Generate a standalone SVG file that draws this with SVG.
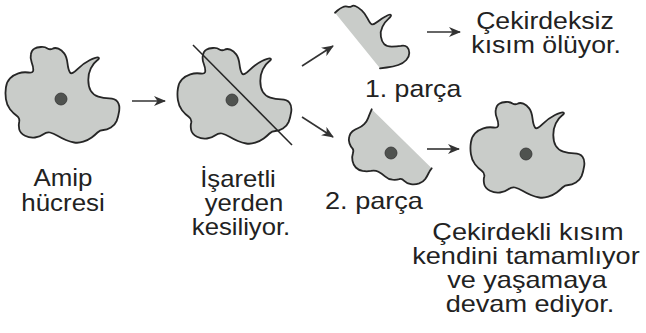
<svg xmlns="http://www.w3.org/2000/svg" width="646" height="333" viewBox="0 0 646 333">
  <style>
    .cell { fill: #c9ccc9; stroke: #262626; stroke-width: 1.8; stroke-linejoin: round; }
    .piece { fill: #c9ccc9; stroke: none; }
    .edge { fill: none; stroke: #262626; stroke-width: 1.8; stroke-linejoin: round; stroke-linecap: round; }
    .nucleus { fill: #4f524f; stroke: #333; stroke-width: 0.8; }
    .cut { stroke: #262626; stroke-width: 1.5; }
    .arrow { stroke: #333; stroke-width: 1.6; fill: none; marker-end: url(#head); }
    text { font-family: "Liberation Sans", Arial, sans-serif; font-size: 24px; fill: #222; }
    .mid { text-anchor: middle; }
  </style>
  <defs>
    <marker id="head" viewBox="0 0 12 10" refX="11" refY="5" markerWidth="12" markerHeight="10" markerUnits="userSpaceOnUse" orient="auto">
      <path d="M0,0 L12,5 L0,10 L3.5,5 Z" fill="#333"/>
    </marker>
    <!-- whole amoeba outline, nucleus at (61,99) -->
    <path id="amoeba" d="M30.9,54.2 Q31.7,50 34.2,48.7 Q36.7,47.3 40.9,47 Q45,46.7 47.5,48.4 Q50,50 52.5,48.7 Q55,47.3 58.4,48.7 Q61.7,50 64.2,53.4 Q66.7,56.7 67.5,63.4 Q68.3,70 70,72.5 Q71.7,75 77.5,69.2 Q83.3,63.3 90,60 Q96.7,56.7 98.4,57.5 Q100,58.3 96.7,60.8 Q93.3,63.3 90.8,68.3 Q88.3,73.3 88.3,80 Q88.3,86.7 90.8,90.9 Q93.3,95 98.3,96.7 Q103.3,98.3 109.2,98.3 Q115,98.3 117.5,101.7 Q120,105 119.2,110.9 Q118.3,116.7 116.7,120.9 Q115,125 110.9,127.5 Q106.7,130 103.4,130 Q100,130 97.5,132.5 Q95,135 91.7,137.5 Q88.3,140 83.3,141.7 Q78.3,143.3 74.2,142.5 Q70,141.7 65.9,140 Q61.7,138.3 57.5,135.8 Q53.3,133.3 50,132.5 Q46.7,131.7 43.4,134.2 Q40,136.7 35,137.5 Q30,138.3 25,135.8 Q20,133.3 19.2,129.2 Q18.3,125 19.2,121.7 Q20,118.3 16.7,115.8 Q13.3,113.3 10,109.2 Q6.7,105 5.9,99.2 Q5,93.3 5.9,87.5 Q6.7,81.7 10,78.4 Q13.3,75 18.3,73.4 Q23.3,71.7 28.3,72.5 Q33.3,73.3 33.3,70 Q33.3,66.7 31.7,62.5 Q30,58.3 30.9,54.2 Z"/>
  </defs>

  <!-- connectors -->
  <g id="connectors">
    <line class="arrow" x1="132" y1="101" x2="165" y2="101"/>
    <line class="arrow" x1="302" y1="66" x2="333" y2="46"/>
    <line class="arrow" x1="302" y1="117" x2="333" y2="137"/>
    <line class="arrow" x1="427" y1="32" x2="460" y2="32"/>
    <line class="arrow" x1="427" y1="149" x2="459" y2="149"/>
  </g>

  <!-- amoeba cell -->
  <g id="cell-whole">
    <use href="#amoeba" class="cell"/>
    <circle class="nucleus" cx="61" cy="99" r="6"/>
  </g>

  <!-- cell marked for cutting -->
  <g id="cell-marked">
    <use href="#amoeba" class="cell" transform="translate(172,1)"/>
    <circle class="nucleus" cx="232" cy="100" r="6"/>
    <line class="cut" x1="193" y1="45" x2="292" y2="145"/>
  </g>

  <!-- piece without nucleus -->
  <g id="piece-1">
    <path class="piece" d="M335,12.7 L337.5,10.5 Q340,8.3 342.5,7.2 Q345,6 347.5,6.7 Q350,7.3 351.7,6.2 Q353.3,5 355.8,6.2 Q358.3,7.3 361.7,10.3 Q365,13.3 367.5,18.3 Q370,23.3 371.7,24.2 Q373.3,25 377.5,21.7 Q381.7,18.3 385.9,16.2 Q390,14 390.9,15 Q391.7,16 388.4,18.9 Q385,21.7 382.5,26.7 Q380,31.7 380.9,36.7 Q381.7,41.7 384.2,44.2 Q386.7,46.7 391.7,46.7 Q396.7,46.7 400.9,45.9 Q405,45 407.2,47.2 Q409.3,49.3 409.3,53 Q409.3,56.7 406.3,60 Q403.3,63.3 398.3,65 Q393.3,66.7 386.7,67.5 L380,68.3 Z"/>
    <path class="edge" d="M335,12.7 L337.5,10.5 Q340,8.3 342.5,7.2 Q345,6 347.5,6.7 Q350,7.3 351.7,6.2 Q353.3,5 355.8,6.2 Q358.3,7.3 361.7,10.3 Q365,13.3 367.5,18.3 Q370,23.3 371.7,24.2 Q373.3,25 377.5,21.7 Q381.7,18.3 385.9,16.2 Q390,14 390.9,15 Q391.7,16 388.4,18.9 Q385,21.7 382.5,26.7 Q380,31.7 380.9,36.7 Q381.7,41.7 384.2,44.2 Q386.7,46.7 391.7,46.7 Q396.7,46.7 400.9,45.9 Q405,45 407.2,47.2 Q409.3,49.3 409.3,53 Q409.3,56.7 406.3,60 Q403.3,63.3 398.3,65 Q393.3,66.7 386.7,67.5 L380,68.3"/>
  </g>

  <!-- piece with nucleus -->
  <g id="piece-2">
    <path class="piece" d="M371.7,109.3 L370.5,112.2 Q369.3,115 368,118.4 Q366.7,121.7 364.2,124.2 Q361.7,126.7 358.4,128 Q355,129.3 352.5,131.3 Q350,133.3 349.2,136.7 Q348.3,140 349.5,143.4 Q350.7,146.7 352.4,148.4 Q354,150 352.9,153.4 Q351.7,156.7 352.5,160.9 Q353.3,165 355.8,167.5 Q358.3,170 362.5,170.9 Q366.7,171.7 370.9,170.9 Q375,170 378.4,171.7 Q381.7,173.3 385,176.3 Q388.3,179.3 392.5,179.7 Q396.7,180 399.2,179.2 Q401.7,178.3 404.2,180.8 Q406.7,183.3 410.9,184.2 Q415,185 419.2,183.4 Q423.3,181.7 425.3,178.9 Q427.3,176 428.7,173 Q430,170 431.7,168.3 Z"/>
    <path class="edge" d="M371.7,109.3 L370.5,112.2 Q369.3,115 368,118.4 Q366.7,121.7 364.2,124.2 Q361.7,126.7 358.4,128 Q355,129.3 352.5,131.3 Q350,133.3 349.2,136.7 Q348.3,140 349.5,143.4 Q350.7,146.7 352.4,148.4 Q354,150 352.9,153.4 Q351.7,156.7 352.5,160.9 Q353.3,165 355.8,167.5 Q358.3,170 362.5,170.9 Q366.7,171.7 370.9,170.9 Q375,170 378.4,171.7 Q381.7,173.3 385,176.3 Q388.3,179.3 392.5,179.7 Q396.7,180 399.2,179.2 Q401.7,178.3 404.2,180.8 Q406.7,183.3 410.9,184.2 Q415,185 419.2,183.4 Q423.3,181.7 425.3,178.9 Q427.3,176 428.7,173 Q430,170 431.7,168.3"/>
    <circle class="nucleus" cx="391" cy="153" r="6"/>
  </g>

  <!-- regenerated cell -->
  <g id="cell-regrown">
    <use href="#amoeba" class="cell" transform="translate(465,55)"/>
    <circle class="nucleus" cx="526" cy="154" r="6"/>
  </g>

  <!-- labels: glyphs are set slightly wide -->
  <g id="labels">
    <text class="mid" transform="translate(63,0) scale(1.08,1)"><tspan x="0" y="186.5">Amip</tspan><tspan x="0" y="211.5">hücresi</tspan></text>
    <text class="mid" transform="translate(241,0) scale(1.07,1)"><tspan x="-2.8" y="187">İşaretli</tspan><tspan x="2.8" y="211">yerden</tspan><tspan x="0" y="235">kesiliyor.</tspan></text>
    <text transform="translate(365,0) scale(1.11,1)"><tspan x="0" y="97">1. parça</tspan></text>
    <text transform="translate(325,0) scale(1.13,1)"><tspan x="0" y="209">2. parça</tspan></text>
    <text class="mid" transform="translate(545.5,0) scale(1.11,1)"><tspan x="-0.5" y="29">Çekirdeksiz</tspan><tspan x="0.5" y="53">kısım ölüyor.</tspan></text>
    <text class="mid" transform="translate(528,0) scale(1.13,1)"><tspan x="0" y="240">Çekirdekli kısım</tspan><tspan x="-1.8" y="264">kendini tamamlıyor</tspan><tspan x="-0.9" y="288">ve yaşamaya</tspan><tspan x="1.8" y="312">devam ediyor.</tspan></text>
  </g>
</svg>
